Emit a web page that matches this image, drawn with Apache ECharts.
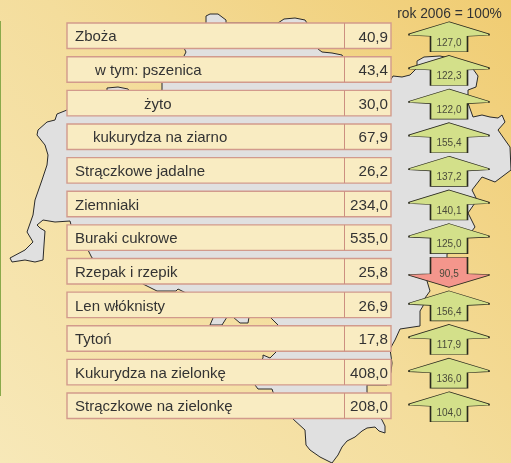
<!DOCTYPE html>
<html><head><meta charset="utf-8">
<style>html,body{margin:0;padding:0;background:#f5e0a0}#c{width:511px;height:463px}</style>
<script src="https://cdn.jsdelivr.net/npm/echarts@6/dist/echarts.min.js"></script>
</head><body><div id="c"></div>
<script>
const categories = ['Zboża','w tym: pszenica','żyto','kukurydza na ziarno','Strączkowe jadalne','Ziemniaki','Buraki cukrowe','Rzepak i rzepik','Len włóknisty','Tytoń','Kukurydza na zielonkę','Strączkowe na zielonkę'];
const amounts = [40.9,43.4,30.0,67.9,26.2,234.0,535.0,25.8,26.9,17.8,408.0,208.0];
const indexes = [127.0,122.3,122.0,155.4,137.2,140.1,125.0,90.5,156.4,117.9,136.0,104.0];
const indexNote = 'rok 2006 = 100%';

// layout only
const labelIndent = {1:20, 2:69, 3:18};
const boxLeft=67, boxDivider=344.5, boxRight=391, labelX=75, valueX=388, arrowX=449;
const fmt = v => v.toFixed(1).replace('.',',');
const upArrow = 'path://M40 0L80 12.2L80 13.5L58.5 14.5L58.5 30L21.5 30L21.5 14.5L0 13.5L0 12.2Z';
const downArrow = 'path://M21.5 0L58.5 0L58.5 16.5L80 17.2L80 18L40 30L0 18L0 17.2L21.5 16.5Z';
const regionOutline = [[206,16],[210,14],[218,14],[222,17],[226,20],[226,23],[278,23],[284,19],[295,18],[305,20],[307,23],[318,49],[322,52],[332,53],[342,55],[350,70],[375,82],[390,81],[393,76],[402,77],[410,75],[417,68],[417,61],[424,57],[440,56],[468,62],[478,76],[476,87],[468,90],[468,103],[473,117],[482,115],[490,117],[498,118],[502,115],[505,122],[498,130],[505,140],[510,147],[511,170],[495,182],[482,177],[472,190],[477,200],[468,213],[475,227],[465,240],[447,254],[447,260],[430,275],[427,281],[430,291],[425,298],[423,306],[420,311],[420,326],[400,329],[395,340],[390,349],[392,363],[391,372],[387,385],[367,385],[367,392],[375,410],[382,420],[385,426],[385,433],[379,431],[375,427],[367,428],[362,431],[355,437],[347,441],[342,447],[338,455],[332,463],[320,457],[310,450],[306,445],[305,430],[293,419],[280,405],[273,392],[272,389],[258,389],[255,385],[252,372],[263,358],[263,355],[270,358],[277,351],[278,325],[270,317],[260,305],[249,317],[248,323],[240,323],[233,317],[230,308],[227,317],[222,325],[210,325],[213,318],[200,300],[182,291],[178,289],[176,291],[157,291],[143,284],[125,270],[92,258],[88,250],[75,240],[70,221],[55,222],[43,220],[37,225],[40,228],[45,231],[44,245],[43,260],[35,262],[25,260],[12,262],[10,258],[25,250],[33,242],[27,232],[33,215],[35,200],[42,180],[47,165],[48,155],[45,145],[37,135],[38,130],[47,122],[55,120],[57,114],[67,110],[80,105],[100,100],[107,92],[107,88],[118,87],[128,89],[135,100],[150,100],[162,90],[162,81],[170,70],[184,56],[186,52],[184,48],[195,30],[206,23]];

const chart = echarts.init(document.getElementById('c'), null, {renderer:'canvas'});
chart.setOption({
  animation:false,
  backgroundColor:{type:'linear',x:0,y:1,x2:1,y2:0,colorStops:[{offset:0,color:'#f7e8b8'},{offset:0.5,color:'#f4dd9c'},{offset:1,color:'#f0cc72'}]},
  grid:{left:0,right:0,top:19,bottom:40.4},
  xAxis:{type:'value',min:0,max:511,show:false},
  yAxis:{type:'category',data:categories,inverse:true,show:false},
  graphic:[
    {type:'rect',z:-2,silent:true,shape:{x:0,y:21,width:1,height:375},style:{fill:'#8aa94a'}},
    {type:'polygon',z:-1,silent:true,shape:{points:regionOutline},style:{fill:'#e0e0e0',stroke:'#2a2a2a',lineWidth:1}},
    {type:'text',z:10,silent:true,x:449.5,y:14,style:{text:indexNote,fill:'#333',font:'13.8px "Liberation Sans"',align:'center',verticalAlign:'middle'}}
  ],
  series:[
    {type:'custom',coordinateSystem:'cartesian2d',z:2,silent:true,
     data:categories.map((c,i)=>[0,i,amounts[i]]),
     encode:{x:0,y:1},
     renderItem(params,api){
       const i=api.value(1);
       const cy=api.coord([0,i])[1];
       const h=25.5, top=cy-h/2;
       const stroke='#d29a8c';
       return {type:'group',children:[
         {type:'rect',shape:{x:boxLeft,y:top,width:boxRight-boxLeft,height:h},style:{fill:'#f9ecc2',stroke:stroke,lineWidth:1.4}},
         {type:'line',shape:{x1:boxDivider,y1:top,x2:boxDivider,y2:top+h},style:{stroke:'#cc8f80',lineWidth:1}},
         {type:'text',x:labelX+(labelIndent[i]||0),y:cy+1.5,style:{text:categories[i],fill:'#333',font:'15px "Liberation Sans"',align:'left',verticalAlign:'middle'}},
         {type:'text',x:valueX,y:cy+1.5,style:{text:fmt(amounts[i]),fill:'#333',font:'15.2px "Liberation Sans"',align:'right',verticalAlign:'middle'}}
       ]};
     }},
    {type:'scatter',z:3,silent:true,
     data:indexes.map((v,i)=>({
       value:[arrowX,i],
       symbol:v>=100?upArrow:downArrow,
       itemStyle:{color:v>=100?'#d3e08a':'#f4968c'},
       label:{offset:[0,v>=100?6:2],formatter:fmt(v)}
     })),
     symbolSize:[80,30],symbolKeepAspect:false,symbolOffset:[0,1],
     itemStyle:{borderColor:'#2a2a1e',borderWidth:1,opacity:1},
     label:{show:true,position:'inside',fontFamily:'Liberation Sans',fontSize:10,color:'#4a4a3a'}}
  ]
});
</script></body></html>
